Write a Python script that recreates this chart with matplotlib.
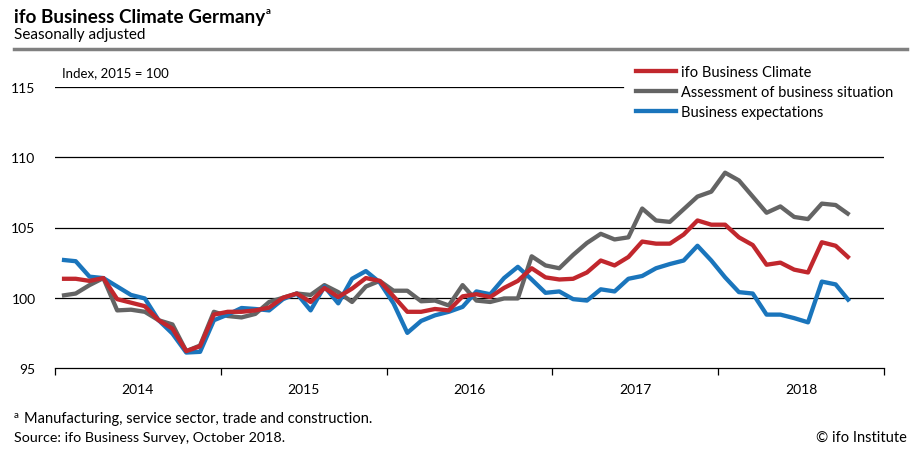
import matplotlib
matplotlib.use("Agg")
import matplotlib.pyplot as plt
from matplotlib.lines import Line2D

plt.rcParams['font.family'] = ['Lato', 'DejaVu Sans']

# monthly values, Jan 2014 .. Oct 2018 (2015 = 100)
climate = [
    101.35, 101.35, 101.2, 101.4, 99.9, 99.65, 99.4, 98.4, 97.8, 96.2, 96.55, 98.8,
    99.0, 99.0, 99.1, 99.3, 100.0, 100.3, 99.7, 100.7, 100.05, 100.65, 101.4, 101.2,
    100.1, 99.0, 99.0, 99.2, 99.1, 100.1, 100.25, 100.05, 100.7, 101.2, 102.1, 101.45,
    101.3, 101.35, 101.8, 102.65, 102.3, 102.9, 104.0, 103.85, 103.85, 104.5, 105.5, 105.2,
    105.2, 104.3, 103.75, 102.35, 102.5, 102.0, 101.8, 103.95, 103.7, 102.8,
]
situation = [
    100.15, 100.3, 100.9, 101.4, 99.1, 99.15, 99.0, 98.4, 98.1, 96.2, 96.6, 99.0,
    98.7, 98.6, 98.85, 99.7, 100.0, 100.3, 100.2, 100.9, 100.4, 99.7, 100.8, 101.2,
    100.5, 100.5, 99.75, 99.8, 99.45, 100.9, 99.8, 99.7, 99.95, 99.95, 102.95, 102.3,
    102.1, 103.05, 103.9, 104.55, 104.15, 104.3, 106.35, 105.5, 105.4, 106.3, 107.2, 107.55,
    108.9, 108.35, 107.2, 106.05, 106.5, 105.75, 105.6, 106.7, 106.6, 105.9,
]
expectations = [
    102.7, 102.6, 101.5, 101.4, 100.8, 100.2, 99.95, 98.4, 97.45, 96.1, 96.15, 98.4,
    98.8, 99.27, 99.2, 99.1, 99.9, 100.3, 99.1, 100.8, 99.6, 101.35, 101.9, 101.1,
    99.6, 97.5, 98.35, 98.75, 99.0, 99.35, 100.45, 100.25, 101.4, 102.2, 101.3, 100.35,
    100.45, 99.9, 99.8, 100.6, 100.45, 101.35, 101.55, 102.1, 102.4, 102.65, 103.7, 102.65,
    101.45, 100.4, 100.3, 98.8, 98.8, 98.55, 98.25, 101.15, 100.95, 99.75,
]
years = ['2014', '2015', '2016', '2017', '2018']
y_ticks = [95, 100, 105, 110, 115]
series_names = ['ifo Business Climate', 'Assessment of business situation', 'Business expectations']

red = '#c1272d'
gray = '#646464'
blue = '#1a75bc'

fig = plt.figure(figsize=(9.2, 4.56), dpi=100)
ax = fig.add_axes([55 / 920, 1 - 369 / 456, (884 - 55) / 920, (369 - 88) / 456])

months = list(range(len(climate)))
ax.plot(months, situation, color=gray, lw=3.1, solid_capstyle='butt', zorder=3)
ax.plot(months, expectations, color=blue, lw=3.1, solid_capstyle='butt', zorder=4)
ax.plot(months, climate, color=red, lw=3.1, solid_capstyle='butt', zorder=5)

ax.set_xlim(-0.5, 59.5)
ax.set_ylim(95, 115)

# gridlines
for v in [100, 105, 110]:
    ax.axhline(v, color='black', lw=0.9, zorder=1)
ax.axhline(115, xmin=0, xmax=(623 - 55) / (884 - 55), color='black', lw=0.9, zorder=1)

for s in ['top', 'right', 'left']:
    ax.spines[s].set_visible(False)
ax.spines['bottom'].set_linewidth(0.9)

ax.set_xticks([-0.5 + 12 * k for k in range(6)])
ax.set_xticklabels([])
ax.tick_params(axis='x', length=5, width=0.9, direction='out')
ax.set_xticks([5.5 + 12 * k for k in range(5)], minor=True)
ax.set_xticklabels(years, minor=True, fontsize=10)
ax.tick_params(axis='x', which='minor', length=0, pad=11)

ax.set_yticks(y_ticks)
ax.set_yticklabels([str(t) for t in y_ticks], fontsize=10)
ax.tick_params(axis='y', length=0, pad=14)

ax.text(0.0, 115.6, 'Index, 2015 = 100', fontsize=9.5, ha='left', va='bottom')

# legend
handles = [Line2D([], [], color=c, lw=3.1) for c in [red, gray, blue]]
fig.legend(handles, series_names, loc='upper left', bbox_to_anchor=(636 / 920, 1 - 66 / 456),
           frameon=False, fontsize=10.5, handlelength=2.75, handletextpad=0.35,
           labelspacing=0.42, borderpad=0, borderaxespad=0)

# header
t = fig.text(14 / 920, 1 - 17 / 456, 'ifo Business Climate Germany', fontsize=13.6,
             fontweight='bold', ha='left', va='center')
fig.canvas.draw()
bb = t.get_window_extent()
fig.text((bb.x1 + 1) / 920, 1 - 12 / 456, 'a', fontsize=7, fontweight='bold', ha='left', va='center')
fig.text(14 / 920, 1 - 35 / 456, 'Seasonally adjusted', fontsize=11, ha='left', va='center')
fig.add_artist(Line2D([14 / 920, 907 / 920], [1 - 50 / 456, 1 - 50 / 456],
                      color='#808080', lw=2.5, transform=fig.transFigure))

# footer
fig.text(14 / 920, 1 - 416 / 456, 'a', fontsize=7, ha='left', va='center')
fig.text(24 / 920, 1 - 419 / 456, 'Manufacturing, service sector, trade and construction.',
         fontsize=10.5, ha='left', va='center')
fig.text(14 / 920, 1 - 438 / 456, 'Source: ifo Business Survey, October 2018.',
         fontsize=10.3, ha='left', va='center')
fig.text(907 / 920, 1 - 438 / 456, '\u00a9 ifo Institute', fontsize=10.5, ha='right', va='center')

fig.savefig('out.png', dpi=100)
